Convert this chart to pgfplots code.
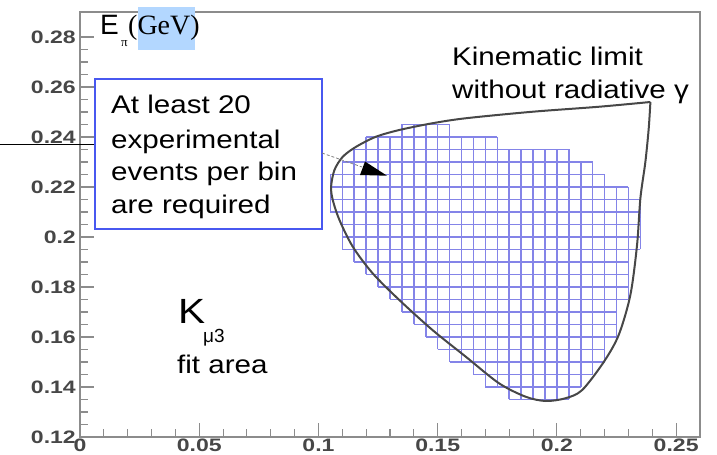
\documentclass[border=0pt]{standalone}
\usepackage{fontspec}
\usepackage{pgfplots}
\pgfplotsset{compat=1.18}
\usepackage{pgfplotstable}
\usetikzlibrary{arrows.meta}

\setmainfont{Liberation Sans}
\newfontfamily\annotfont{Liberation Sans}[FakeStretch=1.16]
\newfontfamily\tickfont{Liberation Sans}[FakeStretch=1.28]
\newfontfamily\seriffont{Liberation Serif}

\definecolor{cellblue}{RGB}{132,132,232}
\definecolor{boxblue}{RGB}{72,88,240}
\definecolor{selblue}{RGB}{179,215,255}
\definecolor{framegray}{RGB}{140,140,140}

% bin edges of the occupied 0.005 x 0.005 bins
% vertical edges: x position, lower and upper end
\pgfplotstableread{
x     ylo    yhi
0.105 0.210  0.225
0.110 0.195  0.230
0.115 0.190  0.235
0.120 0.185  0.240
0.125 0.180  0.240
0.130 0.175  0.240
0.135 0.170  0.245
0.140 0.165  0.245
0.145 0.160  0.245
0.150 0.155  0.245
0.155 0.150  0.245
0.160 0.150  0.240
0.165 0.145  0.240
0.170 0.140  0.240
0.175 0.140  0.240
0.180 0.135  0.235
0.185 0.135  0.235
0.190 0.135  0.235
0.195 0.135  0.235
0.200 0.135  0.235
0.205 0.135  0.235
0.210 0.140  0.230
0.215 0.145  0.230
0.220 0.150  0.225
0.225 0.160  0.220
0.230 0.175  0.220
0.235 0.195  0.215
}\vedges
% horizontal edges: y position, left and right end
\pgfplotstableread{
y     xlo    xhi
0.135 0.180  0.205
0.140 0.170  0.210
0.145 0.165  0.215
0.150 0.155  0.220
0.155 0.150  0.220
0.160 0.145  0.225
0.165 0.140  0.225
0.170 0.135  0.225
0.175 0.130  0.230
0.180 0.125  0.230
0.185 0.120  0.230
0.190 0.115  0.230
0.195 0.110  0.235
0.200 0.110  0.235
0.205 0.110  0.235
0.210 0.105  0.235
0.215 0.105  0.235
0.220 0.105  0.230
0.225 0.105  0.220
0.230 0.110  0.215
0.235 0.115  0.205
0.240 0.120  0.175
0.245 0.135  0.155
}\hedges

% kinematic boundary (no radiative photon)
\pgfplotstableread{
x      y
0.2392 0.2540
0.2176 0.2521
0.1897 0.2501
0.1618 0.2475
0.1478 0.2455
0.1339 0.2428
0.1241 0.2401
0.1158 0.2361
0.1102 0.2321
0.1067 0.2268
0.1053 0.2201
0.1060 0.2148
0.1088 0.2068
0.1144 0.1961
0.1227 0.1855
0.1339 0.1748
0.1478 0.1628
0.1618 0.1521
0.1757 0.1415
0.1869 0.1361
0.1953 0.1344
0.2036 0.1355
0.2106 0.1388
0.2197 0.1501
0.2259 0.1608
0.2308 0.1768
0.2336 0.1968
0.2350 0.2155
0.2371 0.2301
0.2385 0.2435
0.2392 0.2540
}\curve

\begin{document}
\begin{tikzpicture}
\begin{axis}[
  at={(80bp,18bp)}, anchor=south west,
  scale only axis, width=620bp, height=425bp,
  xmin=0, xmax=0.26, ymin=0.12, ymax=0.29,
  xtick={0,0.05,0.1,0.15,0.2,0.25},
  xticklabels={0,0.05,0.1,0.15,0.2,0.25},
  ytick={0.12,0.14,0.16,0.18,0.2,0.22,0.24,0.26,0.28},
  yticklabels={0.12,0.14,0.16,0.18,0.2,0.22,0.24,0.26,0.28},
  minor x tick num=4, minor y tick num=3,
  tick align=inside, xtick pos=bottom, ytick pos=left,
  major tick length=14bp, minor tick length=8bp,
  tick style={framegray, line width=1.1bp},
  axis line style={framegray, line width=1.5bp},
  ticklabel style={font=\tickfont\bfseries\fontsize{18bp}{20bp}\selectfont, text=black!72},
  yticklabel style={inner xsep=4bp, inner ysep=0pt},
  xticklabel style={inner sep=0pt, yshift=-2bp},
]
  % bin outlines: vertical edges
  \addplot[draw=none, mark=none, forget plot,
    error bars/.cd, y dir=plus, y explicit, error mark=none,
    error bar style={draw=cellblue, line width=1.5bp}]
    table[x=x, y=ylo, y error expr={\thisrow{yhi}-\thisrow{ylo}}] {\vedges};
  % bin outlines: horizontal edges
  \addplot[draw=none, mark=none, forget plot,
    error bars/.cd, x dir=plus, x explicit, error mark=none,
    error bar style={draw=cellblue, line width=1.5bp}]
    table[x=xlo, y=y, x error expr={\thisrow{xhi}-\thisrow{xlo}}] {\hedges};
  % kinematic limit
  \addplot[smooth, black!72, line width=2bp] table[x=x, y=y] {\curve};
\end{axis}

\begin{scope}[x=1bp, y=1bp]
  % axis title with selection highlight
  \fill[selblue] (138,405) rectangle (195,448);
  \node[anchor=base west, inner sep=0pt, font=\fontsize{28bp}{30bp}\selectfont] at (100,420) {E};
  \node[anchor=base west, inner sep=0pt, font=\seriffont\fontsize{13bp}{14bp}\selectfont] at (121,408) {π};
  \node[anchor=base west, inner sep=0pt, font=\seriffont\fontsize{28bp}{30bp}\selectfont] at (128,420) {(GeV)};

  % note box
  \draw[black, line width=1bp] (0,310) -- (95,310);
  \draw[boxblue, line width=1.5bp, fill=white] (95,376) rectangle (322,226);
  \begin{scope}[every node/.style={anchor=base west, inner sep=0pt, font=\annotfont\fontsize{25.5bp}{30bp}\selectfont}]
    \node at (111,342) {At least 20};
    \node at (111,307) {experimental};
    \node at (111,275) {events per bin};
    \node at (111,242) {are required};
    \node at (452,389) {Kinematic limit};
    \node at (452,357) {without radiative γ};
    \node at (177,82) {fit area};
  \end{scope}
  \draw[gray, line width=0.8bp, dash pattern=on 3bp off 2bp] (322,302) -- (362,288);
  \fill[black] (387,279.3) -- (365,293.5) -- (360,280) -- cycle;

  \node[anchor=base west, inner sep=0pt, font=\annotfont\fontsize{35bp}{36bp}\selectfont] at (178,132) {K};
  \node[anchor=base west, inner sep=0pt, font=\fontsize{19bp}{20bp}\selectfont] at (203,113) {μ3};
\end{scope}

\pgfresetboundingbox
\useasboundingbox (0,0) rectangle (717bp,455bp);
\end{tikzpicture}
\end{document}
